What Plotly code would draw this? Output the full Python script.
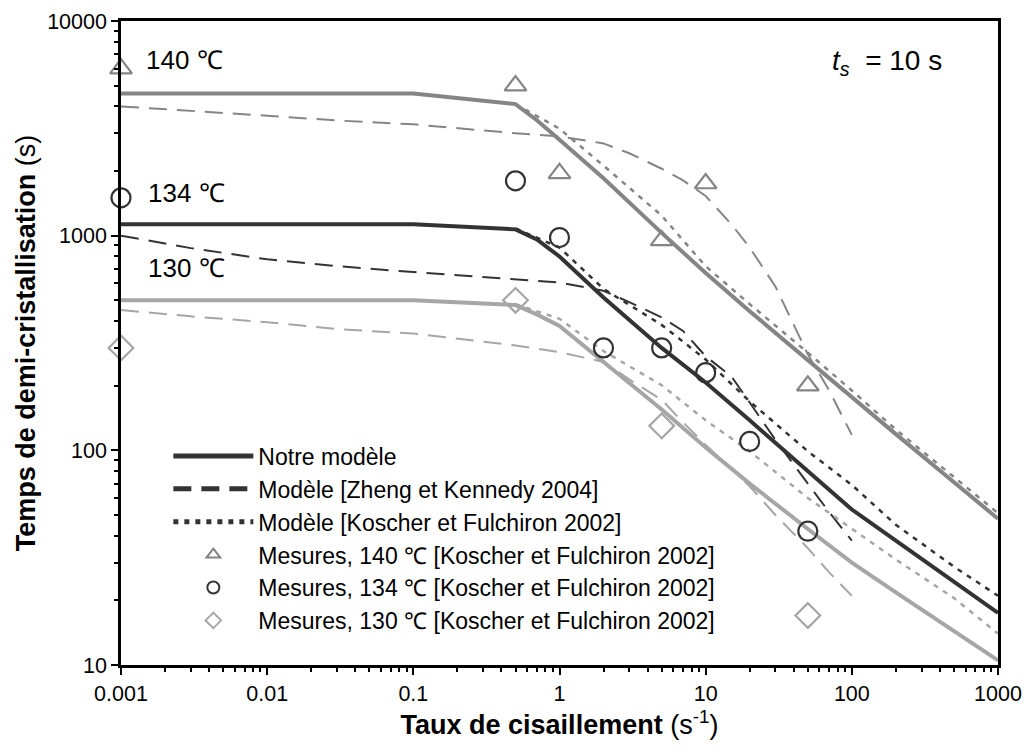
import plotly.graph_objects as go

# ---------------- data ----------------
shear_model = [0.001, 0.01, 0.1, 0.5, 0.7, 1, 2, 5, 10, 20, 50, 100, 200, 500, 1000]
model_140 = [4600, 4600, 4600, 4100, 3450, 2800, 1850, 1030, 670, 445, 262, 176, 119, 71, 48]
model_134 = [1130, 1130, 1130, 1070, 960, 800, 515, 300, 207, 138, 80, 53, 38, 24.4, 17.5]
model_130 = [500, 500, 500, 475, 430, 380, 258, 155, 103, 70, 43, 30, 21.8, 14.4, 10.5]

shear_zk = [0.001, 0.003, 0.01, 0.03, 0.1, 0.5, 1, 2, 3, 5, 7, 10, 15, 20, 30, 50, 70, 100]
zk_140 = [4000, 3800, 3620, 3440, 3300, 3000, 2900, 2690, 2420, 2050, 1810, 1530, 1130, 880, 580, 280, 190, 118]
zk_134 = [1000, 875, 776, 721, 677, 625, 605, 554, 490, 416, 360, 274, 221, 167, 112, 70, 51.5, 38]
zk_130 = [450, 421, 395, 367, 350, 308, 287, 258, 214, 172, 135, 106, 82, 68, 50, 35, 27, 21]

shear_kf = [0.5, 1, 2, 5, 10, 20, 50, 100, 200, 500, 1000]
kf_140 = [4100, 3150, 2120, 1240, 720, 480, 285, 190, 125, 75, 51]
kf_134 = [1080, 880, 565, 384, 265, 169, 99, 69, 45, 28.7, 21]
kf_130 = [480, 410, 290, 201, 138, 99, 60, 43, 31, 20.5, 14]

meas_x_140 = [0.001, 0.5, 1, 5, 10, 50]
meas_y_140 = [6000, 5000, 1950, 950, 1750, 200]
meas_x_134 = [0.001, 0.5, 1, 2, 5, 10, 20, 50]
meas_y_134 = [1500, 1800, 980, 300, 300, 230, 110, 42]
meas_x_130 = [0.001, 0.5, 5, 50]
meas_y_130 = [300, 500, 130, 17]

x_tickvals = [0.001, 0.01, 0.1, 1, 10, 100, 1000]
x_ticktext = ["0.001", "0.01", "0.1", "1", "10", "100", "1000"]
y_tickvals = [10, 100, 1000, 10000]
y_ticktext = ["10", "100", "1000", "10000"]

temp_labels = ["140 ℃", "134 ℃", "130 ℃"]
legend_names = [
    "Notre modèle",
    "Modèle [Zheng et Kennedy 2004]",
    "Modèle [Koscher et Fulchiron 2002]",
    "Mesures, 140 ℃ [Koscher et Fulchiron 2002]",
    "Mesures, 134 ℃ [Koscher et Fulchiron 2002]",
    "Mesures, 130 ℃ [Koscher et Fulchiron 2002]",
]

# ---------------- style ----------------
C140 = "#858585"
C134 = "#333333"
C130 = "#a6a6a6"
FONT = "Arial"
DASH_ZK = "18px,10px"
DASH_KF = "5px,6px"

fig = go.Figure()

def line(x, y, color, width, dash, name=None, show=False, rank=1000):
    fig.add_trace(go.Scatter(
        x=x, y=y, mode="lines", name=name or "",
        line=dict(color=color, width=width, dash=dash),
        showlegend=show, legendrank=rank, hoverinfo="skip"))

# Zheng & Kennedy
line(shear_zk, zk_140, C140, 2, DASH_ZK)
line(shear_zk, zk_130, C130, 2, DASH_ZK)
line(shear_zk, zk_134, C134, 2, DASH_ZK, legend_names[1], True, 2)
# Koscher & Fulchiron
line(shear_kf, kf_140, C140, 2.5, DASH_KF)
line(shear_kf, kf_130, C130, 2.5, DASH_KF)
line(shear_kf, kf_134, C134, 2.5, DASH_KF, legend_names[2], True, 3)
# our model
line(shear_model, model_140, C140, 4, "solid")
line(shear_model, model_130, C130, 4, "solid")
line(shear_model, model_134, C134, 4, "solid", legend_names[0], True, 1)

# measurements
for xs, ys, sym, col, nm, rk in [
    (meas_x_140, meas_y_140, "triangle-up-open", C140, legend_names[3], 4),
    (meas_x_134, meas_y_134, "circle-open", C134, legend_names[4], 5),
    (meas_x_130, meas_y_130, "diamond-open", C130, legend_names[5], 6),
]:
    fig.add_trace(go.Scatter(x=xs, y=ys, mode="markers", name=nm, cliponaxis=False,
                             marker=dict(symbol=sym, size=19, color=col, line=dict(width=2.2, color=col)),
                             legendrank=rk))

minor_x = [m * 10 ** e for e in range(-3, 3) for m in range(2, 10)]
minor_y = [m * 10 ** e for e in range(1, 4) for m in range(2, 10)]

axis_common = dict(
    type="log", showgrid=False, zeroline=False, automargin=False,
    showline=True, linecolor="black", linewidth=2.5, mirror=True,
    ticks="outside", ticklen=7, tickwidth=2, tickcolor="black",
    ticklabeloverflow="allow",
    tickfont=dict(family=FONT, size=21.5, color="black"),
)

fig.update_xaxes(
    **axis_common, range=[-3, 3], tickmode="array",
    tickvals=x_tickvals, ticktext=x_ticktext,
    minor=dict(tickmode="array", tickvals=minor_x, ticks="outside", ticklen=4, tickwidth=2, tickcolor="black"),
    title=dict(text="<b>Taux de cisaillement</b> (s<sup>-1</sup>)",
               font=dict(family=FONT, size=27, color="black"), standoff=2),
)
fig.update_yaxes(
    **axis_common, range=[1, 4], tickmode="array",
    tickvals=y_tickvals, ticktext=y_ticktext,
    minor=dict(tickmode="array", tickvals=minor_y, ticks="outside", ticklen=4, tickwidth=2, tickcolor="black"),
    title=dict(text="<b>Temps de demi-cristallisation</b> (s)",
               font=dict(family=FONT, size=27, color="black"), standoff=4),
)

annos = [
    dict(x=0.026, y=0.940, text=temp_labels[0], size=26),
    dict(x=0.029, y=0.733, text=temp_labels[1], size=26),
    dict(x=0.029, y=0.616, text=temp_labels[2], size=26),
    dict(x=0.809, y=0.935, text="<i>t</i><sub><i>s</i></sub>  = 10 s", size=28),
]
for a in annos:
    fig.add_annotation(xref="paper", yref="paper", x=a["x"], y=a["y"], text=a["text"],
                       showarrow=False, xanchor="left", yanchor="middle",
                       font=dict(family=FONT, size=a["size"], color="black"))

# page body has an 8px default margin: figure is sized so the plot area lands
# where it is in the reference
fig.update_layout(
    width=1014, height=735,
    margin=dict(l=113, r=24, t=13, b=78, autoexpand=False),
    paper_bgcolor="white", plot_bgcolor="white",
    font=dict(family=FONT, color="black"),
    legend=dict(x=0.054, y=0.358, xanchor="left", yanchor="top",
                bgcolor="rgba(0,0,0,0)", borderwidth=0,
                font=dict(family=FONT, size=23, color="black"),
                itemwidth=80, itemsizing="constant", tracegroupgap=0),
    showlegend=True,
)

fig.write_html("out.html")
